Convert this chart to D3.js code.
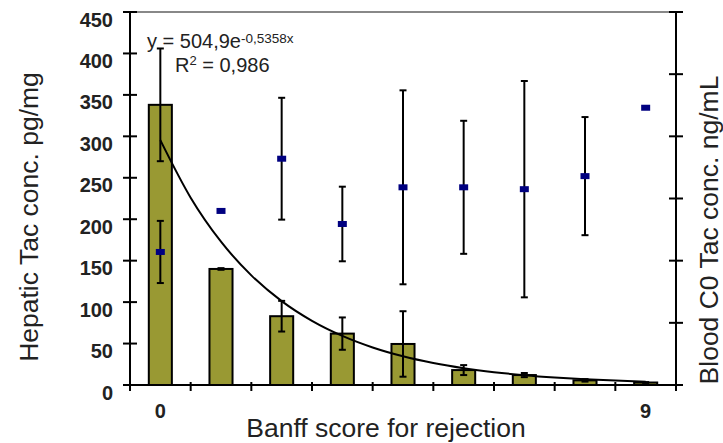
<!DOCTYPE html>
<html>
<head>
<meta charset="utf-8">
<script src="https://cdn.jsdelivr.net/npm/d3@7"></script>
<style>
  html, body { margin: 0; padding: 0; background: white; }
  text { font-family: "Liberation Sans", Arial, sans-serif; }
</style>
</head>
<body>
<svg id="chart" width="723" height="443"></svg>
<script>
// Banff score categories (9 bars), only first and last are labelled
const categories = ["0", "1", "2", "3", "4", "5", "6", "7", "8"];
const xTickLabels = ["0", "", "", "", "", "", "", "", "9"];

// hepatic Tac conc. (pg/mg), left axis
const hepatic = [338, 140, 83, 62, 49.5, 18, 12, 5.6, 3];
const hepaticErr = [68, 1, 18.5, 19.5, 39.5, 6, 2.5, 1.5, 0.5];

// blood C0 Tac conc. (ng/mL), right axis
const blood = [10.7, 14.0, 18.2, 12.95, 15.9, 15.9, 15.75, 16.8, 22.3];
const bloodErr = [2.5, 0, 4.9, 3.0, 7.8, 5.35, 8.7, 4.75, 0];

const leftTicks = [0, 50, 100, 150, 200, 250, 300, 350, 400, 450];
const rightTicks = [0, 5, 10, 15, 20, 25, 30];

// exponential fit y = a * e^(b x), x = 1..9
const fitA = 504.9, fitB = -0.5358;
const fitX = [1, 1.5, 2, 2.5, 3, 3.5, 4, 4.5, 5, 5.5, 6, 6.5, 7, 7.5, 8, 8.5, 9];

window.addEventListener("load", main);

function main()
{
    const svg = d3.select("svg#chart");
    const left = 130, right = 676, top = 12, bottom = 385;

    const x = d3.scaleBand().domain(categories).range([left, right]).padding(0);
    const yL = d3.scaleLinear().domain([0, 450]).range([bottom, top]);
    const yR = d3.scaleLinear().domain([0, 30]).range([bottom, top]);
    const cx = d => x(d) + x.bandwidth() / 2;
    const barW = x.bandwidth() * 0.38;

    // grey frame line on top
    svg.append("line")
        .attr("x1", left + 7).attr("x2", right).attr("y1", top).attr("y2", top)
        .attr("stroke", "#888").attr("stroke-width", 2);

    // bars
    svg.selectAll("rect.bar").data(categories).join("rect")
        .attr("class", "bar")
        .attr("x", d => cx(d) - barW / 2)
        .attr("width", barW)
        .attr("y", (d, i) => yL(hepatic[i]))
        .attr("height", (d, i) => bottom - yL(hepatic[i]))
        .attr("fill", "#999933")
        .attr("stroke", "black")
        .attr("stroke-width", 2);

    // fitted curve, x=1 is the first category
    const line = d3.line()
        .x(v => cx(categories[0]) + (v - 1) * x.bandwidth())
        .y(v => yL(fitA * Math.exp(fitB * v)))
        .curve(d3.curveMonotoneX);
    svg.append("path").datum(fitX)
        .attr("d", line)
        .attr("fill", "none").attr("stroke", "black").attr("stroke-width", 2);

    // error bars helper
    function errorBars(cls, vals, errs, scale)
    {
        const g = svg.append("g").attr("class", cls);
        const items = categories.map((c, i) => ({c: c, v: vals[i], e: errs[i]})).filter(d => d.e > 0);
        g.selectAll("line.v").data(items).join("line")
            .attr("x1", d => cx(d.c)).attr("x2", d => cx(d.c))
            .attr("y1", d => scale(d.v + d.e)).attr("y2", d => scale(d.v - d.e))
            .attr("stroke", "black").attr("stroke-width", 2);
        ["+", "-"].forEach(s => {
            g.selectAll("line.cap" + (s === "+" ? "Hi" : "Lo")).data(items).join("line")
                .attr("x1", d => cx(d.c) - 3.5).attr("x2", d => cx(d.c) + 3.5)
                .attr("y1", d => scale(s === "+" ? d.v + d.e : d.v - d.e))
                .attr("y2", d => scale(s === "+" ? d.v + d.e : d.v - d.e))
                .attr("stroke", "black").attr("stroke-width", 2);
        });
    }
    errorBars("errHep", hepatic, hepaticErr, yL);
    errorBars("errBlood", blood, bloodErr, yR);

    // blood markers
    svg.selectAll("rect.mark").data(categories).join("rect")
        .attr("class", "mark")
        .attr("x", d => cx(d) - 4.5)
        .attr("y", (d, i) => yR(blood[i]) - 3)
        .attr("width", 9).attr("height", 6)
        .attr("fill", "#000080");

    // left axis
    svg.append("line")
        .attr("x1", left).attr("x2", left).attr("y1", top).attr("y2", bottom + 6)
        .attr("stroke", "black").attr("stroke-width", 2);
    svg.selectAll("line.lt").data(leftTicks).join("line")
        .attr("class", "lt")
        .attr("x1", left - 7).attr("x2", left + 7)
        .attr("y1", d => yL(d)).attr("y2", d => yL(d))
        .attr("stroke", "black").attr("stroke-width", 2);
    svg.selectAll("text.lt").data(leftTicks).join("text")
        .attr("class", "lt")
        .text(d => d)
        .attr("x", 113)
        .attr("y", d => yL(d) + 14.5)
        .attr("text-anchor", "end")
        .attr("font-size", "20px")
        .attr("font-weight", "bold")
        .attr("fill", "#222");

    // right axis
    svg.append("line")
        .attr("x1", right).attr("x2", right).attr("y1", top).attr("y2", bottom + 6)
        .attr("stroke", "black").attr("stroke-width", 2);
    svg.selectAll("line.rt").data(rightTicks).join("line")
        .attr("class", "rt")
        .attr("x1", right - 7).attr("x2", right + 7)
        .attr("y1", d => yR(d)).attr("y2", d => yR(d))
        .attr("stroke", "black").attr("stroke-width", 2);

    // x axis
    svg.append("line")
        .attr("x1", left - 7).attr("x2", right + 7).attr("y1", bottom).attr("y2", bottom)
        .attr("stroke", "black").attr("stroke-width", 2);
    svg.selectAll("line.xt").data(categories.slice(1)).join("line")
        .attr("class", "xt")
        .attr("x1", d => x(d)).attr("x2", d => x(d))
        .attr("y1", bottom - 3).attr("y2", bottom + 6)
        .attr("stroke", "black").attr("stroke-width", 2);
    svg.selectAll("text.xt").data(categories).join("text")
        .attr("class", "xt")
        .text((d, i) => xTickLabels[i])
        .attr("x", d => cx(d))
        .attr("y", 418)
        .attr("text-anchor", "middle")
        .attr("font-size", "20px")
        .attr("font-weight", "bold")
        .attr("fill", "#222");

    // titles
    svg.append("text")
        .text("Banff score for rejection")
        .attr("x", 386).attr("y", 437)
        .attr("text-anchor", "middle")
        .attr("font-size", "26.5px").attr("fill", "#222");
    svg.append("text")
        .text("Hepatic Tac conc. pg/mg")
        .attr("transform", "translate(38,217) rotate(-90)")
        .attr("text-anchor", "middle")
        .attr("font-size", "26.5px").attr("fill", "#222");
    svg.append("text")
        .text("Blood C0 Tac conc. ng/mL")
        .attr("transform", "translate(718,230) rotate(-90)")
        .attr("text-anchor", "middle")
        .attr("font-size", "26.5px").attr("fill", "#222");

    // fit equation
    const eq = svg.append("text").attr("x", 147).attr("y", 48)
        .attr("font-size", "20px").attr("fill", "#222");
    eq.append("tspan").text("y = 504,9e");
    eq.append("tspan").text("-0,5358x").attr("font-size", "13.5px").attr("dy", -5);
    const r2 = svg.append("text").attr("x", 175).attr("y", 72)
        .attr("font-size", "20px").attr("fill", "#222");
    r2.append("tspan").text("R");
    r2.append("tspan").text("2").attr("font-size", "13px").attr("dy", -7);
    r2.append("tspan").text(" = 0,986").attr("dy", 7);
}
</script>
</body>
</html>
